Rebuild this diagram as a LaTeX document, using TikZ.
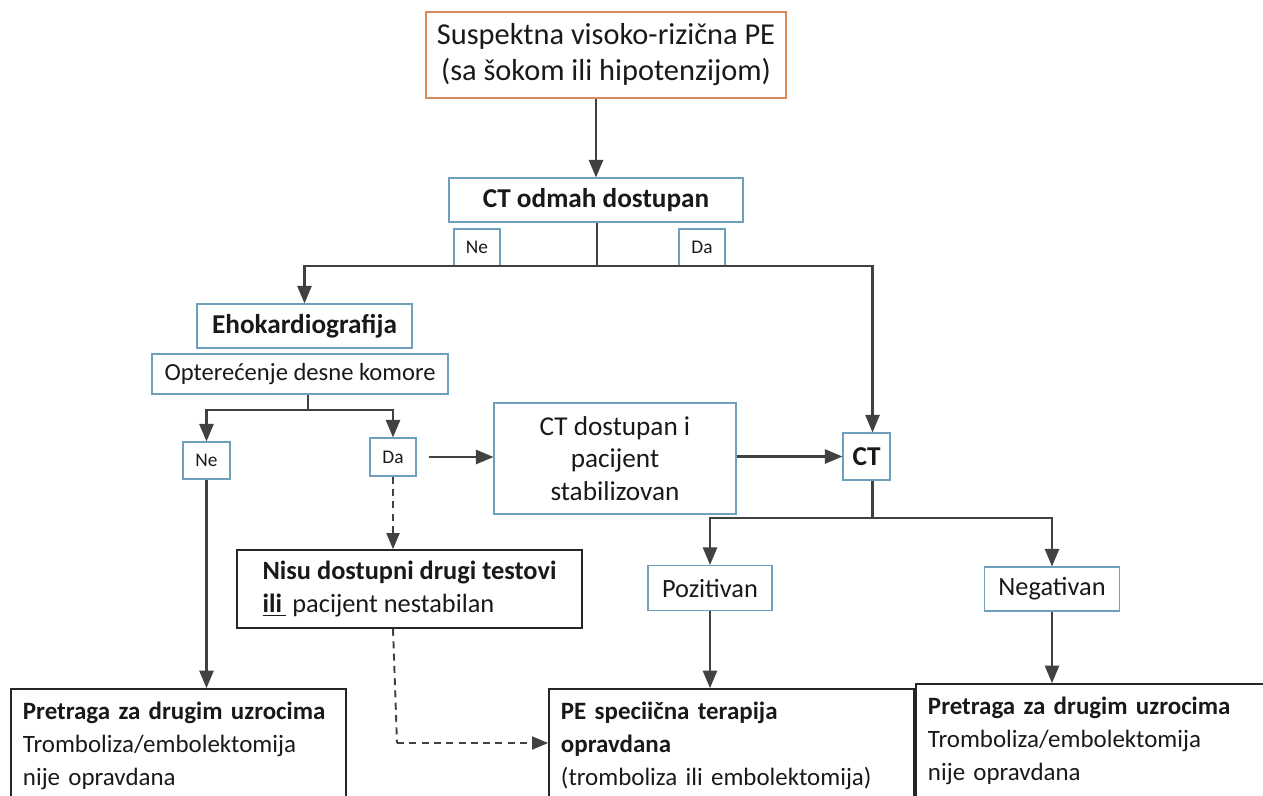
\documentclass[tikz,border=0pt]{standalone}
\usepackage{fontspec}
\setmainfont{Carlito}
\usetikzlibrary{arrows}

\definecolor{boxblue}{RGB}{110,160,190}
\definecolor{boxorange}{RGB}{215,140,90}
\definecolor{flowgray}{RGB}{65,65,65}
\definecolor{textblack}{RGB}{25,25,25}

\tikzset{
  bluebox/.style={draw=boxblue,line width=0.8pt,inner sep=0pt,align=center,text=textblack},
  orangebox/.style={draw=boxorange,line width=0.8pt,inner sep=0pt,align=center,text=textblack},
  blackbox/.style={draw=black!85,line width=1.1pt,inner sep=0pt,align=left,text=textblack},
  endbox/.style={draw=black!85,line width=1.1pt,anchor=north west,align=left,text=textblack,
    inner xsep=0.24cm,inner ysep=0.26cm,font=\fontsize{14.2}{18.7}\selectfont},
  flow/.style={->,>=triangle 45,line width=1.3pt,draw=flowgray},
  flowline/.style={line width=1.3pt,draw=flowgray},
  flowdash/.style={->,>=triangle 45,line width=1.1pt,draw=flowgray,dash pattern=on 4pt off 3pt},
}

\begin{document}
\begin{tikzpicture}[x=0.02cm,y=-0.02cm]
  \useasboundingbox (0,0) rectangle (1263,795);

  \node[orangebox,minimum width=7.2cm,minimum height=1.72cm,font=\fontsize{17.3}{20.5}\selectfont] (susp) at (606,55)
    {Suspektna visoko-rizična PE\\(sa šokom ili hipotenzijom)};
  \node[bluebox,minimum width=5.88cm,minimum height=0.88cm,font=\bfseries\fontsize{15.5}{18}\selectfont] (ctodmah) at (596,200)
    {CT odmah dostupan};
  \node[bluebox,minimum width=0.92cm,minimum height=0.74cm,font=\fontsize{11}{13}\selectfont] (ne1) at (477,247.5) {Ne};
  \node[bluebox,minimum width=0.92cm,minimum height=0.74cm,font=\fontsize{11}{13}\selectfont] (da1) at (702,247.5) {Da};
  \coordinate (split1) at (597,266);

  \node[bluebox,minimum width=4.3cm,minimum height=0.88cm,font=\bfseries\fontsize{15.5}{18}\selectfont] (eho) at (304.5,326)
    {Ehokardiografija};
  \node[bluebox,minimum width=5.92cm,minimum height=0.8cm,font=\fontsize{14}{17}\selectfont] (opt) at (300,374)
    {Opterećenje desne komore};
  \coordinate (split2) at (308,410);
  \node[bluebox,minimum width=0.94cm,minimum height=0.74cm,font=\fontsize{11}{13}\selectfont] (ne2) at (206.5,460.5) {Ne};
  \node[bluebox,minimum width=0.92cm,minimum height=0.76cm,font=\fontsize{11}{13}\selectfont] (da2) at (393,457) {Da};

  \node[bluebox,minimum width=4.84cm,minimum height=2.22cm,font=\fontsize{15.5}{18.7}\selectfont] (ctdost) at (615,458.5)
    {CT dostupan i\\pacijent\\stabilizovan};
  \node[bluebox,minimum width=0.94cm,minimum height=0.94cm,font=\bfseries\fontsize{15.5}{18}\selectfont] (ct) at (866.5,456.5) {CT};
  \coordinate (split3) at (873,518);

  \node[bluebox,minimum width=2.48cm,minimum height=0.9cm,font=\fontsize{15}{18}\selectfont] (poz) at (710,588) {Pozitivan};
  \node[bluebox,minimum width=2.7cm,minimum height=0.88cm,font=\fontsize{15}{18}\selectfont] (neg) at (1052,589) {Negativan};

  \node[blackbox,minimum width=6.9cm,minimum height=1.56cm,font=\fontsize{15}{18.7}\selectfont] (nisu) at (409.5,589)
    {\textbf{Nisu dostupni drugi testovi}\\\underline{\textbf{ili}\,}\ pacijent nestabilan};

  % end boxes, cut off at the bottom
  \node[endbox,text width=6.22cm] (lbox) at (10,688)
    {\textbf{Pretraga za drugim uzrocima}\\Tromboliza/embolektomija\\nije opravdana\rule[-14pt]{0pt}{1pt}};
  \node[endbox,text width=6.82cm] (pe) at (548,688)
    {\textbf{PE speciična terapija}\\\textbf{opravdana}\\(tromboliza ili embolektomija)\rule[-14pt]{0pt}{1pt}};
  \node[endbox,text width=6.52cm] (rbox) at (915,683)
    {\textbf{Pretraga za drugim uzrocima}\\Tromboliza/embolektomija\\nije opravdana\rule[-14pt]{0pt}{1pt}};
  \coordinate (dashbend) at (397,743);

  % connectors
  \draw[flow] (ctodmah.north |- susp.south) -- (ctodmah.north);
  \draw[flowline] (ctodmah.south -| split1) -- (split1);
  \draw[flow] (split1) -| ([xshift=0.12cm]ct.north);
  \draw[flow] (split1) -| (eho.north);

  \draw[flowline] (split2 |- opt.south) -- (split2);
  \draw[flow] (split2) -| (ne2.north);
  \draw[flow] (split2) -| (da2.north);
  \draw[flow,shorten <=0.24cm] (da2.east) -- (da2.east -| ctdost.west);
  \draw[flow] (ctdost.east |- ct.west) -- (ct.west);

  \draw[flowline] ([xshift=0.12cm]ct.south) -- ([xshift=0.12cm]ct.south |- split3);
  \draw[flow] (split3) -| (poz.north);
  \draw[flow] (split3) -| (neg.north);
  \draw[flow] (poz.south) -- (poz.south |- pe.north);
  \draw[flow] (neg.south) -- (neg.south |- rbox.north);

  \draw[flow] (ne2.south) -- (ne2.south |- lbox.north);
  \draw[flowdash] (da2.south) -- (da2.south |- nisu.north);
  \draw[flowline,dash pattern=on 4pt off 3pt,line width=1.1pt] (da2.south |- nisu.south) -- (dashbend);
  \draw[flowdash] (dashbend) -- (dashbend -| pe.west);
\end{tikzpicture}
\end{document}
